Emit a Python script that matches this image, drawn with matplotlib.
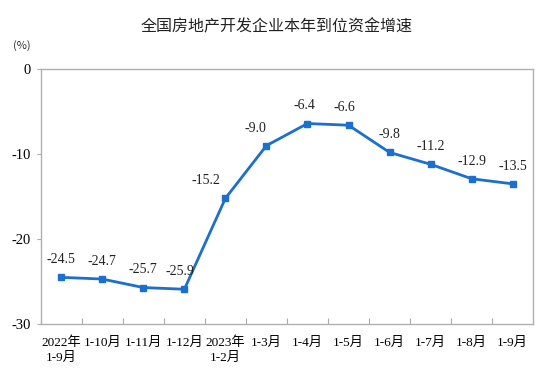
import matplotlib.pyplot as plt

# data
categories = ["2022年\n1-9月", "1-10月", "1-11月", "1-12月", "2023年\n1-2月", "1-3月",
              "1-4月", "1-5月", "1-6月", "1-7月", "1-8月", "1-9月"]
growth = [-24.5, -24.7, -25.7, -25.9, -15.2, -9.0, -6.4, -6.6, -9.8, -11.2, -12.9, -13.5]
label_dx = [0, 0, 0, -3, -14, -8, -2, -3, 0, 0, 0, 0]

serif = ['Liberation Serif', 'Noto Sans CJK SC']
blue = '#1a6fd0'

fig = plt.figure(figsize=(5.54, 3.84), dpi=100)
ax = fig.add_axes([0.0735, 0.156, 0.889, 0.664])

x = list(range(len(categories)))
ax.plot(x, growth, color=blue, lw=2, marker='s', ms=4.5, mfc=blue, mec=blue)

for i, v in enumerate(growth):
    ax.annotate(f"{v:.1f}", (i, v), xytext=(label_dx[i], 8), textcoords='offset points',
                ha='center', va='bottom', fontsize=10, family=serif, color='#222222')

ax.set_xlim(-0.5, len(categories) - 0.5)
ax.set_ylim(-30, 0)
ax.set_yticks([0, -10, -20, -30])
ax.set_yticklabels(["0", "-10", "-20", "-30"], family=serif, fontsize=10.5)

# ticks at category boundaries, labels at centers
ax.set_xticks([i + 0.5 for i in x[:-1]])
ax.set_xticklabels([])
ax.set_xticks(x, minor=True)
ax.set_xticklabels(categories, minor=True, family=serif, fontsize=9.5, linespacing=1.25)
ax.tick_params(axis='x', which='major', direction='in', length=4, color='#aaaaaa')
ax.tick_params(axis='x', which='minor', length=0, pad=9)
ax.tick_params(axis='y', direction='out', length=3, color='#aaaaaa', pad=4)
for lab in ax.get_xticklabels(minor=True):
    lab.set_verticalalignment('top')

for s in ax.spines.values():
    s.set_color('#b0b0b0')
    s.set_linewidth(1)

fig.text(0.5, 0.93, "全国房地产开发企业本年到位资金增速", ha='center', va='center',
         fontsize=11.5, family=['Noto Sans CJK SC', 'DejaVu Sans'], color='#222222')
fig.text(0.040, 0.882, "(%)", ha='center', va='center', fontsize=8,
         family=['Noto Sans CJK SC', 'DejaVu Sans'], color='#333333')

fig.savefig("out.png", dpi=100)
